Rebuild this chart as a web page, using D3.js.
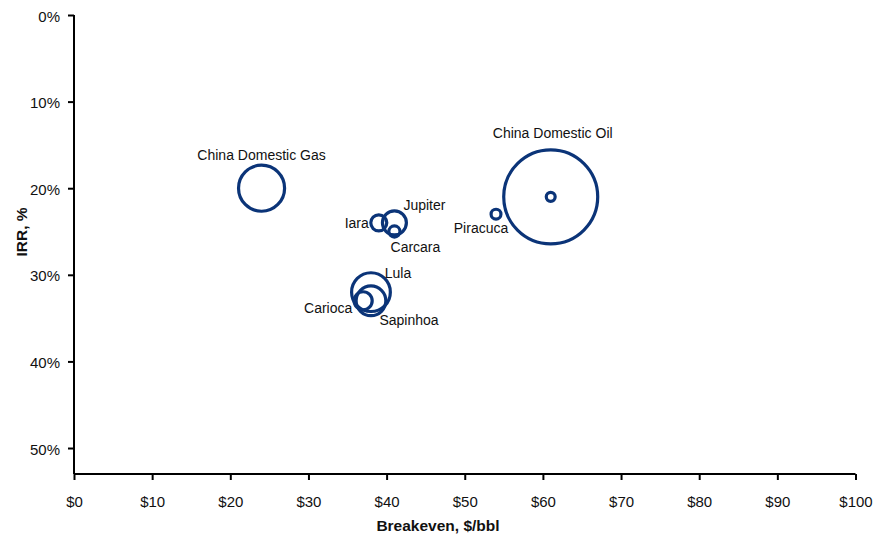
<!DOCTYPE html>
<html>
<head>
<meta charset="utf-8">
<script src="https://cdn.jsdelivr.net/npm/d3@7"></script>
<style>
  html, body { margin: 0; padding: 0; background: #fff; }
  svg { display: block; }
  text { font-family: "Liberation Sans", Arial, sans-serif; fill: #111; }
</style>
</head>
<body>
<svg id="chart" width="873" height="539"></svg>
<script>
// Projects: breakeven oil price ($/bbl), IRR (%) and relative size of each project
const projects   = ["China Domestic Gas", "China Domestic Oil", "China Domestic Oil (sub)", "Piracuca", "Iara", "Jupiter", "Carcara", "Lula", "Sapinhoa", "Carioca"];
const breakevens = [24, 61, 61, 54, 39, 41, 41, 38, 38, 37];
const irrs       = [20, 21, 21, 23, 24, 24, 25, 32, 33, 33];
const sizes      = [24, 100, 0.9, 1.1, 2.9, 6.5, 1.4, 17, 10, 3.7];
const labels     = ["China Domestic Gas", "China Domestic Oil", "", "Piracuca", "Iara", "Jupiter", "Carcara", "Lula", "Sapinhoa", "Carioca"];

const xTicks = [0, 10, 20, 30, 40, 50, 60, 70, 80, 90, 100];
const yTicks = [0, 10, 20, 30, 40, 50];

// Label placement around each bubble (pixel offsets from the bubble centre)
const labelOffset = {
  "China Domestic Gas": [0, -33, "middle"],
  "China Domestic Oil": [2, -64, "middle"],
  "Piracuca": [-15, 14, "middle"],
  "Iara": [-10, 0, "end"],
  "Jupiter": [30, -18, "middle"],
  "Carcara": [21, 15, "middle"],
  "Lula": [27, -19, "middle"],
  "Sapinhoa": [38, 19, "middle"],
  "Carioca": [-35, 7, "middle"]
};

const navy = "#0b3478";
const svg = d3.select("#chart");

const x = d3.scaleLinear().domain([0, 100]).range([74, 855.5]);
const y = d3.scaleLinear().domain([0, 53]).range([15, 474]);
const r = d3.scaleSqrt().domain([0, 100]).range([0, 47]);

// Axes
const xAxis = d3.axisBottom(x).tickValues(xTicks).tickSize(6).tickPadding(16)
  .tickFormat(d => "$" + d);
const yAxis = d3.axisLeft(y).tickValues(yTicks).tickSize(6).tickPadding(8)
  .tickFormat(d => d + "%");

const gx = svg.append("g").attr("transform", "translate(0,474)").call(xAxis);
const gy = svg.append("g").attr("transform", "translate(74,0)").call(yAxis);

[gx, gy].forEach(g => {
  g.select(".domain").attr("stroke", "#000").attr("stroke-width", 2);
  g.selectAll(".tick line").attr("stroke", "#000").attr("stroke-width", 2);
  g.selectAll(".tick text").attr("font-family", "Liberation Sans, Arial, sans-serif")
    .attr("font-size", 15).attr("fill", "#111");
});
gy.selectAll(".tick text").attr("dy", "0.4em");
// plain domain lines meeting at the corner
gx.select(".domain").attr("d", `M${x(0)},0H${x(100)}`);
gy.select(".domain").attr("d", `M0,${y(0)}V${y(53)}`);

// Axis titles
svg.append("text")
  .attr("x", 438).attr("y", 531)
  .attr("text-anchor", "middle")
  .attr("font-weight", "bold").attr("font-size", 15.5)
  .text("Breakeven, $/bbl");

svg.append("text")
  .attr("transform", "translate(27,232) rotate(-90)")
  .attr("text-anchor", "middle")
  .attr("font-weight", "bold").attr("font-size", 15.5)
  .text("IRR, %");

// Bubbles
const data = projects.map((p, i) => ({
  name: p, be: breakevens[i], irr: irrs[i], size: sizes[i], label: labels[i]
}));

svg.append("g").selectAll("circle")
  .data(data)
  .join("circle")
  .attr("cx", d => x(d.be))
  .attr("cy", d => y(d.irr))
  .attr("r", d => r(d.size))
  .attr("fill", "none")
  .attr("stroke", navy)
  .attr("stroke-width", 3.2);

// Data labels
svg.append("g").selectAll("text")
  .data(data.filter(d => d.label))
  .join("text")
  .attr("x", d => x(d.be) + labelOffset[d.label][0])
  .attr("y", d => y(d.irr) + labelOffset[d.label][1])
  .attr("text-anchor", d => labelOffset[d.label][2])
  .attr("dominant-baseline", "central")
  .attr("font-size", 14)
  .text(d => d.label);
</script>
</body>
</html>
